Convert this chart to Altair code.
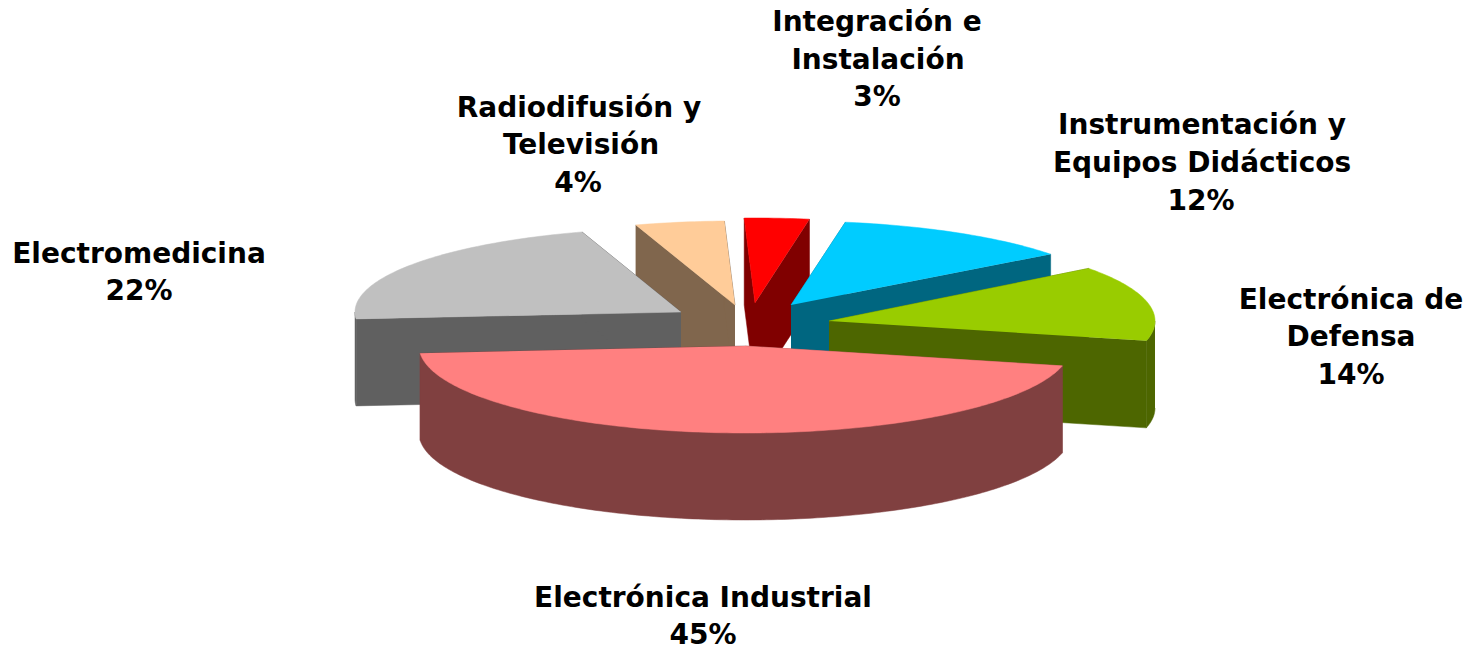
import math
import altair as alt
import pandas as pd

# Slices, drawn back to front
names = ["Radiodifusión y Televisión", "Integración e Instalación", "Instrumentación y Equipos Didácticos",
         "Electromedicina", "Electrónica de Defensa", "Electrónica Industrial"]
shares = [4.4, 3.2, 12.0, 21.4, 14.0, 45.0]
start_deg = [342.3, 358.1, 9.6, 265.3, 52.8, 103.2]
apex_x = [735, 755, 791, 681, 829, 745]
apex_y = [305, 303, 305, 312, 321, 346]
radius_y = [84, 85, 84, 84, 87, 87]
top_colors = ["#ffcc99", "#ff0000", "#00ccff", "#c0c0c0", "#99cc00", "#ff8080"]
side_colors = ["#80664d", "#800000", "#006680", "#606060", "#4d6600", "#804040"]

RX, DEPTH = 326, 87

label_text = ["Integración e", "Instalación", "3%",
              "Radiodifusión y", "Televisión", "4%",
              "Instrumentación y", "Equipos Didácticos", "12%",
              "Electromedicina", "22%",
              "Electrónica de", "Defensa", "14%",
              "Electrónica Industrial", "45%"]
label_x = [877, 878, 877, 579, 581, 578, 1202, 1202, 1201, 139, 139, 1351, 1351, 1351, 703, 703]
label_y = [23, 61, 98, 109, 146, 184, 126, 164, 202, 255, 292, 301, 338, 376, 599, 636]

X = alt.X("x:Q", scale=alt.Scale(domain=[8, 1466], nice=False, zero=False), axis=None)
Y = alt.Y("y:Q", scale=alt.Scale(domain=[650, 8], nice=False, zero=False), axis=None)


def arc(i, a0, a1):
    n = max(8, int(a1 - a0))
    pts = []
    for k in range(n + 1):
        t = math.radians(a0 + (a1 - a0) * k / n)
        pts.append((apex_x[i] + RX * math.sin(t), apex_y[i] - radius_y[i] * math.cos(t)))
    return pts


def poly(points, color):
    df = pd.DataFrame({"x": [p[0] for p in points], "y": [p[1] for p in points],
                       "o": list(range(len(points)))})
    return alt.Chart(df).mark_line(filled=True, fill=color, stroke=color, strokeWidth=0.5).encode(
        x=X, y=Y, order="o:Q")


def low(p):
    return (p[0], p[1] + DEPTH)


layers = []
for i in range(len(shares)):
    a0 = start_deg[i]
    a1 = a0 + shares[i] * 3.6
    rim = arc(i, a0, a1)
    apex = (apex_x[i], apex_y[i])
    w1 = [apex, rim[0], low(rim[0]), low(apex)]
    w2 = [apex, rim[-1], low(rim[-1]), low(apex)]
    layers += [poly(w1, side_colors[i]), poly(w2, side_colors[i])]
    # The outer wall: only the part of the rim that faces the viewer
    f0, f1 = max(a0, 90), min(a1, 270)
    if f1 > f0:
        front = arc(i, f0, f1)
        layers.append(poly(front + [low(p) for p in reversed(front)], side_colors[i]))
    layers.append(poly([apex] + rim, top_colors[i]))

labels = alt.Chart(pd.DataFrame({"x": label_x, "y": label_y, "t": label_text})).mark_text(
    font="DejaVu Sans", fontWeight="bold", fontSize=28, color="black", align="center", baseline="middle"
).encode(x=X, y=Y, text="t:N")

chart = alt.layer(*layers, labels).properties(
    width=1458, height=642, padding=0, background="white",
    autosize=alt.AutoSizeParams(type="none")
).configure_view(stroke=None)

chart.save("out.html", embed_options={"renderer": "svg", "actions": False})
